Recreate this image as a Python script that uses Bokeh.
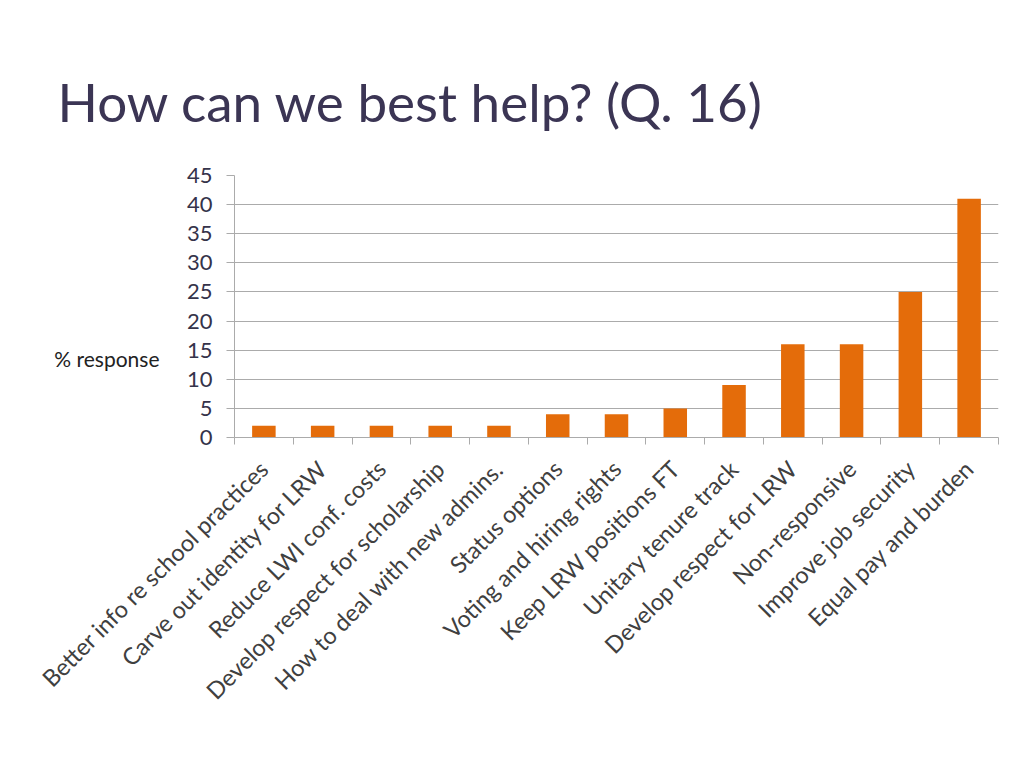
import math
from bokeh.plotting import figure
from bokeh.models import Range1d, FixedTicker, LinearAxis, ColumnDataSource
from bokeh.embed import file_html
from bokeh.resources import INLINE

categories = [
    "Better info re school practices",
    "Carve out identity for LRW",
    "Reduce LWI conf. costs",
    "Develop respect for scholarship",
    "How to deal with new admins.",
    "Status options",
    "Voting and hiring rights",
    "Keep LRW positions FT",
    "Unitary tenure track",
    "Develop respect for LRW",
    "Non-responsive",
    "Improve job security",
    "Equal pay and burden",
]
values = [2, 2, 2, 2, 2, 4, 4, 5, 9, 16, 16, 25, 41]
y_ticks = [0, 5, 10, 15, 20, 25, 30, 35, 40, 45]
series_name = "% response"

n = len(categories)
centers = [i + 0.5 for i in range(n)]
bounds = [float(i) for i in range(n + 1)]

W, H = 1006, 750
FL, FR, FT, FB = 234, 998, 175, 437
Y_MAX = 45

p = figure(width=W, height=H, output_backend="svg", toolbar_location=None,
           x_range=Range1d(0, n), y_range=Range1d(0, Y_MAX),
           min_border_left=FL, min_border_right=W - FR,
           min_border_top=FT, min_border_bottom=H - FB,
           title="How can we best help? (Q. 16)")
p.outline_line_color = None
p.background_fill_color = "white"
p.border_fill_color = "white"

p.title.text_font = "Lato"
p.title.text_font_size = "53px"
p.title.text_font_style = "normal"
p.title.text_color = "#3B3554"
p.title.align = "left"
p.title.offset = -177
p.title.standoff = 86

src = ColumnDataSource(dict(x=centers, top=values))
bars = p.vbar(x="x", top="top", width=0.4, bottom=0, source=src,
              fill_color="#E46C0A", line_color=None)

grid_col = "#ABABAB"
p.yaxis.ticker = FixedTicker(ticks=y_ticks)
p.yaxis.axis_line_color = grid_col
p.yaxis.major_tick_line_color = grid_col
p.yaxis.major_tick_out = 8
p.yaxis.major_tick_in = 0
p.yaxis.minor_tick_line_color = None
p.yaxis.major_label_standoff = 14
p.yaxis.major_label_text_font = "Lato"
p.yaxis.major_label_text_font_size = "22px"
p.yaxis.major_label_text_color = "#35334A"

p.ygrid.ticker = FixedTicker(ticks=y_ticks)
p.ygrid.grid_line_color = grid_col
p.xgrid.grid_line_color = None

p.xaxis.ticker = FixedTicker(ticks=centers, minor_ticks=bounds)
p.xaxis.major_label_overrides = {c: lab for c, lab in zip(centers, categories)}
p.xaxis.major_tick_line_color = None
p.xaxis.minor_tick_line_color = grid_col
p.xaxis.minor_tick_out = 7
p.xaxis.minor_tick_in = 0
p.xaxis.axis_line_color = grid_col
p.xaxis.major_label_orientation = math.pi / 4
p.xaxis.major_label_standoff = 20
p.xaxis.major_label_text_font = "Lato"
p.xaxis.major_label_text_font_size = "23.5px"
p.xaxis.major_label_text_color = "#404040"

# "% response" series label, shown as a second left axis with one label
label_y = (FB - 358) / (FB - FT) * Y_MAX
name_axis = LinearAxis(ticker=FixedTicker(ticks=[label_y]),
                       major_label_overrides={label_y: series_name},
                       axis_line_color=None, major_tick_line_color=None,
                       minor_tick_line_color=None, major_label_standoff=18,
                       major_label_text_font="Lato",
                       major_label_text_font_size="21px",
                       major_label_text_color="#222222")
p.add_layout(name_axis, "left")

open("out.html", "w").write(file_html(p, INLINE))
